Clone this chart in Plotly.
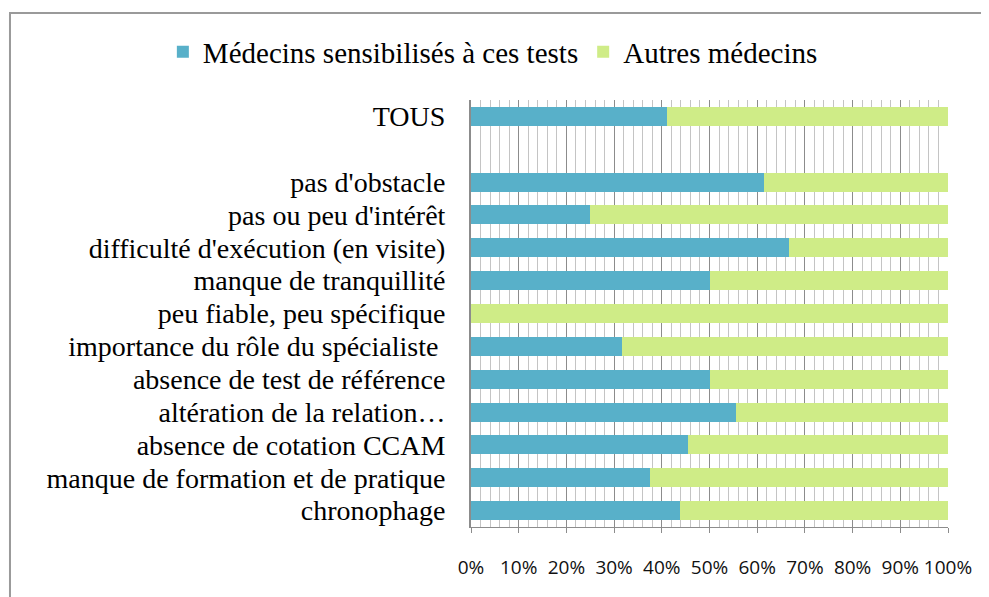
import plotly.graph_objects as go

categories = [
    "TOUS",
    " ",
    "pas d'obstacle",
    "pas ou peu d'intérêt",
    "difficulté d'exécution (en visite)",
    "manque de tranquillité",
    "peu fiable, peu spécifique",
    "importance du rôle du spécialiste ",
    "absence de test de référence",
    "altération de la relation…",
    "absence de cotation CCAM",
    "manque de formation et de pratique",
    "chronophage",
]

bar_categories = [c for c in categories if c.strip()]
sensibilises = [0.41, 0.615, 0.25, 0.667, 0.50, 0.0, 0.316, 0.50, 0.556, 0.455, 0.375, 0.438]
autres = [1 - v for v in sensibilises]

blue = '#58B0C9'
green = '#CFEC87'

fig = go.Figure()
fig.add_trace(go.Bar(y=bar_categories, x=sensibilises, orientation='h',
                     name='Médecins sensibilisés à ces tests',
                     marker=dict(color=blue, line=dict(width=0))))
fig.add_trace(go.Bar(y=bar_categories, x=autres, orientation='h',
                     name='Autres médecins',
                     marker=dict(color=green, line=dict(width=0))))

fig.update_layout(
    width=981,
    height=589,
    barmode='stack',
    bargap=0.42,
    paper_bgcolor='white',
    plot_bgcolor='white',
    margin=dict(l=463, r=41, t=92, b=70),
    font=dict(family='Liberation Serif', size=28, color='black'),
    legend=dict(
        orientation='h',
        x=-0.646,
        xanchor='left',
        y=1.1124,
        yanchor='middle',
        font=dict(family='Liberation Serif', size=29, color='black'),
        bgcolor='rgba(0,0,0,0)',
        itemwidth=30,
        traceorder='normal',
    ),
    xaxis=dict(
        range=[0, 1],
        tickformat='.0%',
        dtick=0.1,
        showgrid=True,
        gridcolor='#8c8c8c',
        gridwidth=1,
        minor=dict(dtick=0.02, showgrid=True, gridcolor='#c4c4c4', gridwidth=1),
        ticks='outside',
        ticklen=5,
        tickcolor='#8c8c8c',
        showline=True,
        linecolor='#8c8c8c',
        mirror=False,
        zeroline=False,
        ticklabelstandoff=18,
        tickfont=dict(family='Open Sans', size=19, color='#111111'),
        fixedrange=True,
    ),
    yaxis=dict(
        categoryorder='array',
        categoryarray=categories,
        tickmode='array',
        tickvals=categories,
        range=[12.5, -0.5],
        showgrid=False,
        showline=True,
        linecolor='#8c8c8c',
        linewidth=2,
        ticks='',
        ticklabelstandoff=18,
        tickfont=dict(family='Liberation Serif', size=28, color='black'),
        fixedrange=True,
    ),
    shapes=[
        dict(type='rect', xref='paper', yref='paper', x0=-0.9665, x1=1.3, y0=1.2037, y1=-0.4,
             line=dict(color='#9a9a9a', width=2), fillcolor='rgba(0,0,0,0)', layer='above'),
    ],
)

fig.write_html("out.html")
